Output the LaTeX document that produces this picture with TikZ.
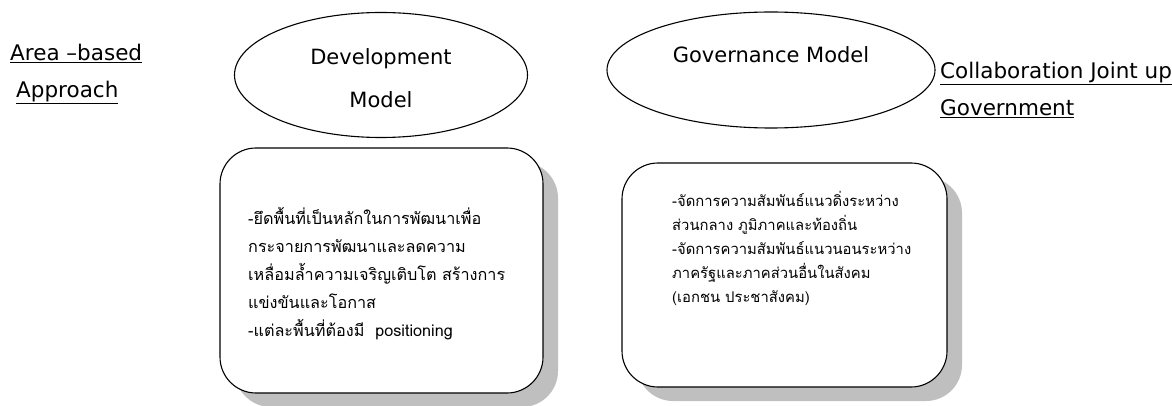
\documentclass[tikz,border=0pt]{standalone}
\usepackage{fontspec}
\setmainfont{Loma}[Script=Thai]
\newfontfamily\latinfont{DejaVu Sans}
\usepackage{tikz}
\usetikzlibrary{shapes.geometric, shadows, positioning}

\begin{document}
\begin{tikzpicture}[x=1pt, y=-1pt,
    oval/.style={ellipse, draw, line width=1.1pt},
    ovaltext/.style={align=center, inner sep=0pt, font=\latinfont\fontsize{21}{43}\selectfont},
    panel/.style={draw, line width=1.1pt, fill=white, rounded corners=36pt,
        drop shadow={shadow xshift=15pt, shadow yshift=-14pt, fill=black!25, opacity=1}},
    heading/.style={align=left, inner sep=0pt, font=\latinfont\fontsize{21.5}{37}\selectfont},
    thaitext/.style={align=left, inner sep=0pt, anchor=north west}]
\useasboundingbox (0,0) rectangle (1172,406);

% top row
\node[heading, anchor=north west] (area) at (10,44) {\underline{Area –based}\\\hspace{6pt}\underline{Approach}};
\node[oval, minimum width=293pt, minimum height=125pt] (devel) at (381,75) {};
\node[ovaltext] (develtext) at ([yshift=-3pt]devel.center) {Development\\Model};
\node[oval, minimum width=328pt, minimum height=116pt] (gover) at (771,70) {};
\node[ovaltext] (govertext) at ([yshift=15pt]gover.center) {Governance Model};
\node[heading, anchor=north west] (collab) at (940,62) {\underline{Collaboration Joint up}\\\underline{Government}};

% boxes
\node[panel, minimum width=323pt, minimum height=245pt] (devbox) at (381.5,270.5) {};
\node[thaitext, font=\fontsize{16.2}{28}\selectfont] (devtext) at (248,207) {%
-ยึดพื้นที่เป็นหลักในการพัฒนาเพื่อ\\
กระจายการพัฒนาและลดความ\\
เหลื่อมล้ำความเจริญเติบโต สร้างการ\\
แข่งขันและโอกาส\\
-แต่ละพื้นที่ต้องมี~~positioning};

\node[panel, minimum width=325pt, minimum height=224pt] (govbox) at (784.5,275) {};
\node[thaitext, font=\fontsize{14.8}{24}\selectfont] (govtext) at (672,191) {%
-จัดการความสัมพันธ์แนวดิ่งระหว่าง\\
ส่วนกลาง ภูมิภาคและท้องถิ่น\\
-จัดการความสัมพันธ์แนวนอนระหว่าง\\
ภาครัฐและภาคส่วนอื่นในสังคม\\
(เอกชน ประชาสังคม)};
\end{tikzpicture}
\end{document}
